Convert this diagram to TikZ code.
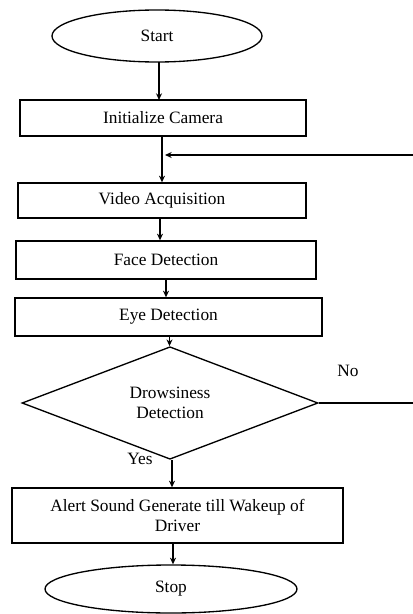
\documentclass[tikz,border=0pt]{standalone}
\usepackage{fontspec}
\setmainfont{Liberation Serif}
\usetikzlibrary{shapes.geometric,arrows.meta}

\tikzset{every picture/.style={line width=1pt}}
\tikzset{
  term/.style={draw, ellipse, inner sep=0pt, font=\fontsize{13}{15}\selectfont},
  proc/.style={draw, rectangle, inner sep=0pt, align=center, font=\fontsize{13}{15}\selectfont},
  decide/.style={draw, diamond, inner sep=0pt, align=center, font=\fontsize{13}{15}\selectfont},
  lbl/.style={inner sep=0.75pt, font=\fontsize{13}{15}\selectfont},
  flow/.style={-{Stealth[length=5pt,width=4.5pt]}}
}

\begin{document}
\begin{tikzpicture}[x=0.75pt,y=0.75pt,yscale=-1,xscale=1]
\useasboundingbox (0,0) rectangle (413,614);

%Shape: Ellipse
\node [term, minimum width=157.5pt, minimum height=39pt] (start) at (157,36) {Start};
%Shape: Rectangle
\node [proc, minimum width=214.5pt, minimum height=27pt] (init) at (163,118) {Initialize Camera};
%Shape: Rectangle
\node [proc, minimum width=216pt, minimum height=26.25pt] (video) at (162,200.5) {Video Acquisition};
%Shape: Rectangle
\node [proc, minimum width=225pt, minimum height=28.5pt] (face) at (166,260) {Face Detection};
%Shape: Rectangle
\node [proc, minimum width=230.25pt, minimum height=28.5pt] (eye) at (168.5,317) {Eye Detection};
%Shape: Diamond
\node [decide, minimum width=222pt, minimum height=69pt] (drowsy) at (170,403) {Drowsiness\\Detection};
%Shape: Rectangle
\node [proc, minimum width=248.25pt, minimum height=41.25pt] (alert) at (177.5,515.5) {Alert Sound Generate till Wakeup of\\Driver};
%Shape: Ellipse
\node [term, minimum width=189pt, minimum height=36pt] (stop) at (171,589) {Stop};

% free ends of the loop
\coordinate (loopin) at (413,155);
\coordinate (loopout) at (413,403);

%Straight Lines
\draw [flow] (159,62) -- (159,100);
\draw [flow] (init.south) ++(-1,0) coordinate (ib) -- (ib |- video.north);
\draw [flow] (loopin) -- (165,155);
\draw [flow] (video.south) ++(-2,0) coordinate (vb) -- (vb |- face.north);
\draw [flow] (face.south) coordinate (fb) -- (fb |- eye.north);
\draw [flow] (eye.south) ++(1,0) coordinate (eb) -- (eb |- drowsy.north);
\draw [flow] (drowsy.south) ++(2,0) coordinate (db) -- (db |- alert.north);
\draw [flow] (alert.south) ++(-4.5,0) coordinate (ab) -- (ab |- stop.north);
\draw (drowsy.east) -- (loopout);

% Text Node
\node [lbl] (no) at (348,371) {No};
% Text Node
\node [lbl] (yes) at (140,459) {Yes};

\end{tikzpicture}
\end{document}
